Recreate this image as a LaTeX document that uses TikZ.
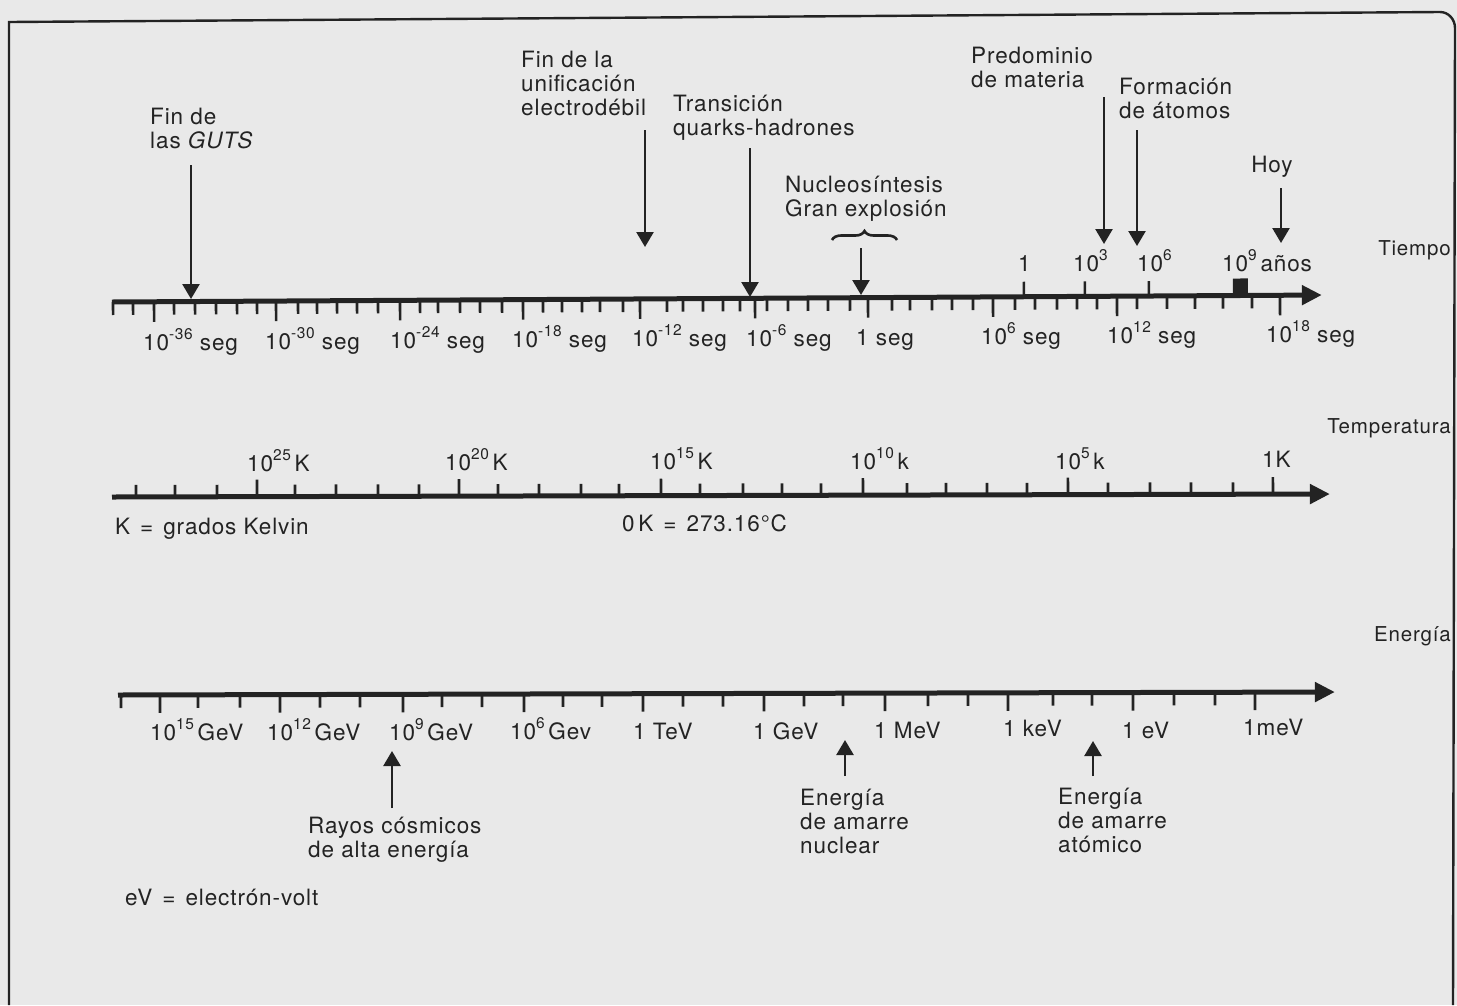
\documentclass[tikz,border=0pt]{standalone}
\usepackage{fontspec}
\setmainfont{TeX Gyre Heros}[LetterSpace=4]
\usetikzlibrary{arrows.meta,decorations.pathreplacing}
\definecolor{ink}{RGB}{35,35,35}
\definecolor{paper}{RGB}{233,233,233}
\newcommand\spx[1]{\raisebox{0.45em}{\fontsize{15.5}{15.5}\selectfont #1}}
\newcommand\eqsp{\hspace{10pt}=\hspace{10pt}}
\begin{document}
\begin{tikzpicture}[x=1pt,y=-1pt,
  lbl/.style={font=\fontsize{22.5}{24}\selectfont, text=ink, inner sep=0pt, anchor=base west, align=left},
  sidelbl/.style={lbl, anchor=base east, font=\fontsize{20.5}{22}\selectfont},
  axisline/.style={draw=ink, line width=5pt, -{Triangle[width=19pt,length=20pt]}},
  tickmark/.style={draw=ink, line width=2.6pt},
  evarrow/.style={draw=ink, line width=2.5pt, -{Triangle[width=17pt,length=15pt]}},
  framel/.style={draw=ink, line width=2.4pt},
]
\fill[paper] (0,0) rectangle (1457,1005);
\useasboundingbox (0,0) rectangle (1457,1005);

% ---------------- time axis
\begin{scope}[shift={(112,302)}, rotate=0.331]
  \coordinate (t0) at (0,0);
  \coordinate (t1) at (1210,0);
  \draw[axisline] (t0) -- (t1);
  \foreach \x in {113,133,174,195,216,237,257,298,317,337,357,378,420,438,460,480,502,543,562,582,600,623,667,683,703,723,740,767,788,808,828,850,892,910,932,952,973,1015,1035,1057,1077,1097,1137,1167,1195,1223,1252}
    \draw[tickmark] (\x-112,0) -- (\x-112,13);
  \foreach \x in {154,276,400,523,640,755,868,993,1117,1280}
    \draw[tickmark] (\x-112,0) -- (\x-112,20);
  \foreach \x in {1024,1085,1149}
    \draw[tickmark] (\x-112,0) -- (\x-112,-15);
  \fill[ink] (1233-112,-17) rectangle (1248-112,0);
\end{scope}

\node[lbl] (ts1) at (143,350) {10\spx{-36} seg};
\node[lbl] (ts2) at (265,349) {10\spx{-30} seg};
\node[lbl] (ts3) at (390,348) {10\spx{-24} seg};
\node[lbl] (ts4) at (512,347) {10\spx{-18} seg};
\node[lbl] (ts5) at (632,346) {10\spx{-12} seg};
\node[lbl] (ts6) at (746,346) {10\spx{-6} seg};
\node[lbl] (ts7) at (856,345) {1 seg};
\node[lbl] (ts8) at (981,344) {10\spx{6} seg};
\node[lbl] (ts9) at (1107,343) {10\spx{12} seg};
\node[lbl] (ts10) at (1266,342) {10\spx{18} seg};

\node[lbl] (ty1) at (1018,271) {1};
\node[lbl] (ty2) at (1073,271) {10\spx{3}};
\node[lbl] (ty3) at (1137,271) {10\spx{6}};
\node[lbl] (ty4) at (1222,271) {10\spx{9}\,años};

\node[sidelbl] (tiempo) at (1451,255) {Tiempo};

% events
\node[lbl] (guts) at (150,148) {Fin de\\las \textit{GUTS}};
\coordinate (gutsA) at (191,165); \coordinate (gutsB) at (191,299);
\draw[evarrow] (gutsA) -- (gutsB);

\node[lbl] (unif) at (521,115) {Fin de la\\unificación\\electrodébil};
\coordinate (unifA) at (645,130); \coordinate (unifB) at (645,247);
\draw[evarrow] (unifA) -- (unifB);

\node[lbl] (trans) at (673,135) {Transición\\quarks-hadrones};
\coordinate (transA) at (750,148); \coordinate (transB) at (750,297);
\draw[evarrow] (transA) -- (transB);

\node[lbl] (nucl) at (785,216) {Nucleosíntesis\\Gran explosión};
\coordinate (braceL) at (832,240); \coordinate (braceR) at (897,240);
\draw[draw=ink, line width=2.6pt, decorate, decoration={brace, amplitude=9pt}] (braceL) -- (braceR);
\coordinate (nuclA) at (861,248); \coordinate (nuclB) at (861,295);
\draw[evarrow] (nuclA) -- (nuclB);

\node[lbl] (pred) at (971,87) {Predominio\\de materia};
\coordinate (predA) at (1104,97); \coordinate (predB) at (1104,244);
\draw[evarrow] (predA) -- (predB);

\node[lbl] (form) at (1119,118) {Formación\\de átomos};
\coordinate (formA) at (1137,130); \coordinate (formB) at (1137,246);
\draw[evarrow] (formA) -- (formB);

\node[lbl, anchor=base] (hoy) at (1272,172) {Hoy};
\coordinate (hoyA) at (1281,188); \coordinate (hoyB) at (1281,243);
\draw[evarrow] (hoyA) -- (hoyB);

% ---------------- temperature axis
\begin{scope}[shift={(112,497)}, rotate=0.141]
  \coordinate (k0) at (0,0);
  \coordinate (k1) at (1218,0);
  \draw[axisline] (k0) -- (k1);
  \foreach \x in {136,175,217,295,336,378,419,498,539,581,619,700,743,782,821,907,946,987,1027,1108,1150,1191,1233}
    \draw[tickmark] (\x-112,0) -- (\x-112,-12);
  \foreach \x in {257,459,661,863,1068,1273}
    \draw[tickmark] (\x-112,0) -- (\x-112,-17);
\end{scope}

\node[lbl] (k25) at (247,471) {10\spx{25}\,K};
\node[lbl] (k20) at (445,470) {10\spx{20}\,K};
\node[lbl] (k15) at (650,469) {10\spx{15}\,K};
\node[lbl] (k10) at (850,469) {10\spx{10}\,k};
\node[lbl] (k5) at (1055,469) {10\spx{5}\,k};
\node[lbl] (k0l) at (1262,467) {1K};
\node[sidelbl] (temp) at (1451,433) {Temperatura};
\node[lbl] (kelvin) at (115,534) {K\eqsp grados Kelvin};
\node[lbl] (zerok) at (622,531) {0\,K\eqsp 273.16°C};

% ---------------- energy axis
\begin{scope}[shift={(118,695)}, rotate=0.141]
  \coordinate (e0) at (0,0);
  \coordinate (e1) at (1217,0);
  \draw[axisline] (e0) -- (e1);
  \foreach \x in {121,198,240,320,360,442,482,563,602,683,723,804,843,928,968,1053,1092,1174,1215}
    \draw[tickmark] (\x-118,0) -- (\x-118,13);
  \foreach \x in {160,280,403,524,643,764,885,1008,1133,1255}
    \draw[tickmark] (\x-118,0) -- (\x-118,18);
\end{scope}

\node[lbl] (g15) at (150,740) {10\spx{15}\,GeV};
\node[lbl] (g12) at (267,740) {10\spx{12}\,GeV};
\node[lbl] (g9) at (389,740) {10\spx{9}\,GeV};
\node[lbl] (g6) at (510,739) {10\spx{6}\,Gev};
\node[lbl] (tev) at (633,739) {1 TeV};
\node[lbl] (gev) at (753,739) {1 GeV};
\node[lbl] (mev) at (874,738) {1 MeV};
\node[lbl] (kev) at (1003,736) {1 keV};
\node[lbl] (ev) at (1122,738) {1 eV};
\node[lbl] (mmev) at (1243,735) {1meV};
\node[sidelbl] (energia) at (1451,641) {Energía};

\node[lbl] (rayos) at (308,857) {Rayos cósmicos\\de alta energía};
\coordinate (rayA) at (392,808); \coordinate (rayB) at (392,751);
\draw[evarrow] (rayA) -- (rayB);

\node[lbl] (nuc) at (800,853) {Energía\\de amarre\\nuclear};
\coordinate (nucA) at (845,776); \coordinate (nucB) at (845,740);
\draw[evarrow] (nucA) -- (nucB);

\node[lbl] (ato) at (1058,852) {Energía\\de amarre\\atómico};
\coordinate (atoA) at (1093,776); \coordinate (atoB) at (1093,741);
\draw[evarrow] (atoA) -- (atoB);

\node[lbl] (evdef) at (125,905) {eV\eqsp electrón-volt};

% frame
\draw[framel] (9,1005) -- (9,22) -- (1440,12) to[out=0,in=90] (1455,28) -- (1453,1005);
\end{tikzpicture}
\end{document}
